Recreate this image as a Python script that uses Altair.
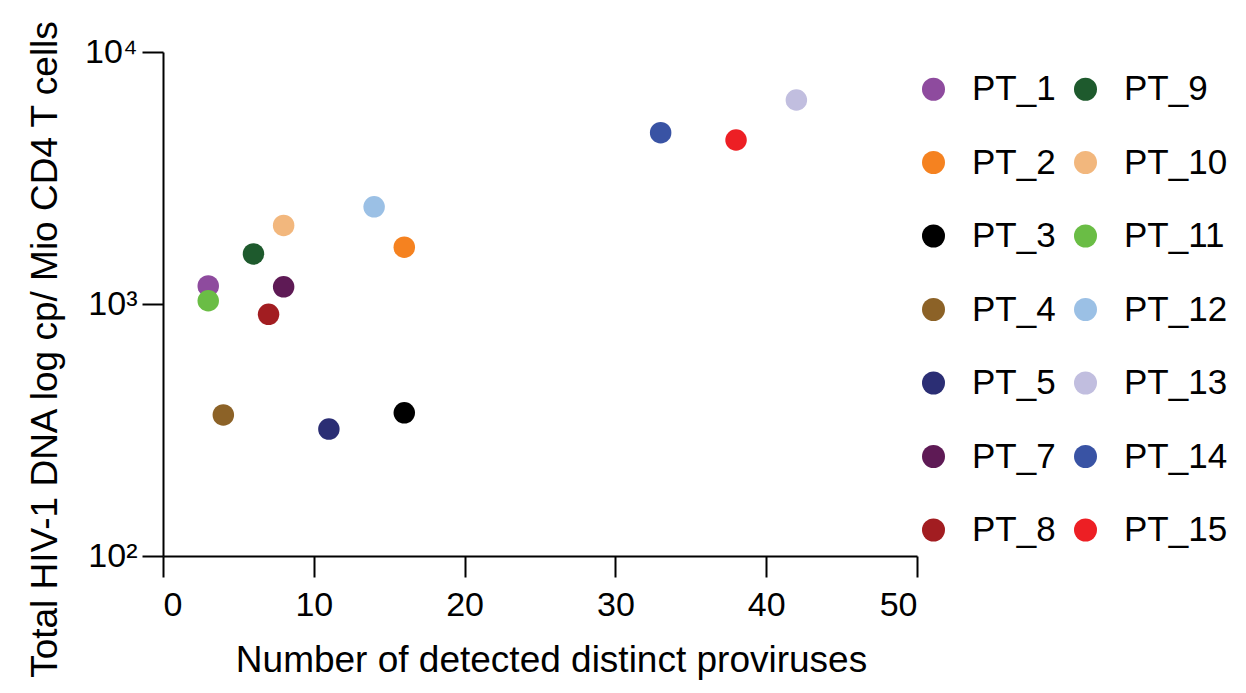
import altair as alt
import pandas as pd

patients = ["PT_1", "PT_2", "PT_3", "PT_4", "PT_5", "PT_7", "PT_8",
            "PT_9", "PT_10", "PT_11", "PT_12", "PT_13", "PT_14", "PT_15"]
proviruses = [3, 16, 16, 4, 11, 8, 7, 6, 8, 3, 14, 42, 33, 38]
hiv_dna = [1180, 1680, 370, 363, 319, 1170, 910, 1580, 2050, 1030, 2430, 6450, 4785, 4475]
colors = ["#8E4B9E", "#F58220", "#000000", "#8C6227", "#2B2E74", "#5E1A55", "#A21D21",
          "#1E5A2D", "#F2B77D", "#6ABD45", "#9BC0E5", "#C1BEDF", "#3953A4", "#ED1F24"]

x_ticks = [0, 10, 20, 30, 40, 50]
y_ticks = [100, 1000, 10000]

df = pd.DataFrame({"patient": patients, "proviruses": proviruses, "dna": hiv_dna})

FONT = "Liberation Sans"

chart = alt.Chart(df).mark_point(filled=True, opacity=1, size=462, shape="circle").encode(
    x=alt.X("proviruses:Q",
            scale=alt.Scale(domain=[0, 50], nice=False, zero=False),
            axis=alt.Axis(values=x_ticks, title="Number of detected distinct proviruses",
                          titleX=388, titleY=115, titleBaseline="alphabetic",
                          labelPadding=11)),
    y=alt.Y("dna:Q",
            scale=alt.Scale(type="log", domain=[100, 10000], nice=False),
            axis=alt.Axis(values=y_ticks, title="Total HIV-1 DNA log cp/ Mio CD4 T cells",
                          labelExpr="datum.value == 100 ? '10²' : datum.value == 1000 ? '10³' : '10⁴'",
                          titleX=-107, titleY=297, titleBaseline="alphabetic", titleAngle=270,
                          titleFontSize=37, labelPadding=5)),
    color=alt.Color("patient:N",
                    scale=alt.Scale(domain=patients, range=colors),
                    legend=alt.Legend(title=None, orient="none", legendX=753, legendY=19.5,
                                      columns=2, symbolType="circle", symbolSize=529,
                                      symbolOpacity=1, symbolStrokeWidth=0,
                                      labelFontSize=35, labelFont=FONT, labelColor="black",
                                      labelOffset=21, rowPadding=37.5, columnPadding=12,
                                      labelLimit=300)),
).properties(
    width=754, height=504,
    padding={"left": 155, "top": 44, "right": 319, "bottom": 129},
    autosize=alt.AutoSizeParams(type="none"),
).configure_view(
    stroke=None
).configure_axis(
    grid=False,
    domainColor="black", domainWidth=2,
    tickColor="black", tickWidth=2, tickSize=21,
    labelFont=FONT, labelFontSize=34, labelColor="black",
    titleFont=FONT, titleFontSize=37, titleColor="black", titleFontWeight="normal",
)

chart.save("out.html", embed_options={"renderer": "svg", "actions": False})
